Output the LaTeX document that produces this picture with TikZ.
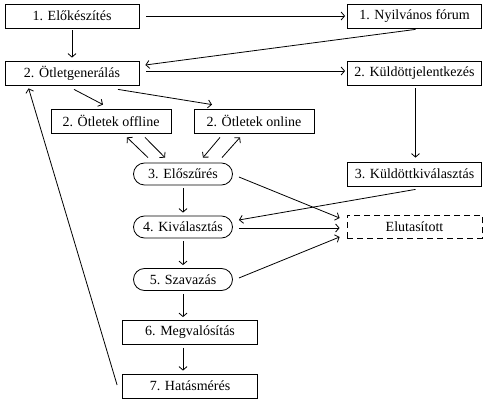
\documentclass[tikz,border=0pt]{standalone}
\usepackage{fontspec}
\setmainfont{Liberation Serif}
\usetikzlibrary{arrows.meta,calc}
\begin{document}
\begin{tikzpicture}[x=1pt,y=-1pt,
  box/.style={draw, line width=0.8pt, minimum width=134pt, minimum height=24pt, inner sep=0pt, font=\fontsize{14}{16}\selectfont},
  sbox/.style={draw, line width=0.8pt, minimum width=120pt, minimum height=24pt, inner sep=0pt, font=\fontsize{14}{16}\selectfont},
  rbox/.style={draw, line width=0.8pt, rounded corners=11pt, minimum width=99pt, minimum height=22pt, inner sep=0pt, font=\fontsize{14}{16}\selectfont},
  dbox/.style={draw, line width=0.8pt, dash pattern=on 6pt off 4pt, minimum width=135pt, minimum height=23pt, inner sep=0pt, font=\fontsize{14}{16}\selectfont},
  arr/.style={line width=0.8pt, -{Straight Barb[length=3.5pt,width=8pt]}}]
\useasboundingbox (0,0) rectangle (488,406);
\node[box] (e1) at (72,16) {1. Előkészítés};
\node[box] (f1) at (414.5,16) {1. Nyilvános fórum};
\node[box] (g2) at (72,73) {2. Ötletgenerálás};
\node[box] (k2) at (414.5,73) {2. Küldöttjelentkezés};
\node[sbox] (off) at (111,121) {2. Ötletek offline};
\node[sbox] (on) at (254,121) {2. Ötletek online};
\node[rbox] (pre) at (183,174) {3. Előszűrés};
\node[box] (kk3) at (414.5,174) {3. Küldöttkiválasztás};
\node[rbox] (kiv) at (183,227) {4. Kiválasztás};
\node[dbox] (elu) at (414.5,227) {Elutasított};
\node[rbox] (sza) at (183,279.5) {5. Szavazás};
\node[box, minimum width=135pt] (meg) at (190,332.5) {6. Megvalósítás};
\node[box, minimum width=135pt] (hat) at (190,386) {7. Hatásmérés};

\draw[arr] ($(e1.east)+(7,0)$) -- ($(f1.west)+(-2,0)$);
\draw[arr] ($(e1.south)+(0,2)$) -- ($(g2.north)+(0,-3)$);
\draw[arr] ($(f1.south)+(1,1)$) -- ($(g2.east)+(6,-8)$);
\draw[arr] ($(g2.east)+(7,-2)$) -- ($(k2.west)+(-2,-2)$);
\draw[arr] ($(g2.south)+(2,4)$) -- ($(off.north)+(-8,-4)$);
\draw[arr] ($(g2.south)+(46,4)$) -- ($(on.north)+(-42,-4)$);
\draw[arr] ($(pre.north)+(-35,-5)$) -- ($(off.south)+(16,4)$);
\draw[arr] ($(off.south)+(34,4)$) -- ($(pre.north)+(-18,-5)$);
\draw[arr] ($(on.south)+(-34,4)$) -- ($(pre.north)+(20,-5)$);
\draw[arr] ($(pre.north)+(39,-5)$) -- ($(on.south)+(-14,4)$);
\draw[arr] ($(k2.south)+(1,3)$) -- ($(kk3.north)+(1,-4)$);
\draw[arr] ($(pre.south)+(0,3)$) -- ($(kiv.north)+(0,-3)$);
\draw[arr] ($(pre.east)+(6,3)$) -- ($(elu.west)+(-7,-9)$);
\draw[arr] ($(kk3.south)+(1,3)$) -- ($(kiv.east)+(6,-7)$);
\draw[arr] ($(kiv.east)+(6,1)$) -- ($(elu.west)+(-7,1)$);
\draw[arr] ($(sza.east)+(6,-1.5)$) -- ($(elu.west)+(-7,10)$);
\draw[arr] ($(kiv.south)+(0,3)$) -- ($(sza.north)+(0,-3)$);
\draw[arr] ($(sza.south)+(0,3)$) -- ($(sza.south |- meg.north)+(0,-3)$);
\draw[arr] ($(sza.south |- meg.south)+(0,3)$) -- ($(sza.south |- hat.north)+(0,-3)$);
\draw[arr] ($(hat.west)+(-5,-1)$) -- ($(g2.south west)+(24,3)$);
\end{tikzpicture}
\end{document}
